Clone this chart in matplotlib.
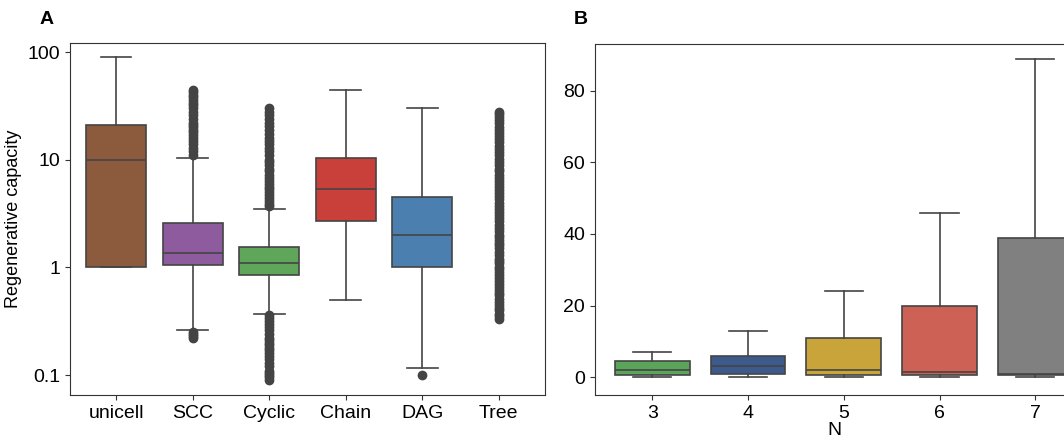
import matplotlib
matplotlib.use("Agg")
from matplotlib import pyplot as plt

plt.rcParams["font.family"] = ["Liberation Sans", "DejaVu Sans"]

# Panel A data
cats_a = ["unicell", "SCC", "Cyclic", "Chain", "DAG", "Tree"]
colors_a = ["#8c5a3c", "#8e5c9e", "#5fa55a", "#c9403a", "#4a7fb0", "#808080"]
whislo_a = [1.0, 0.26, 0.37, 0.5, 0.115, None]
q1_a = [1.0, 1.05, 0.85, 2.7, 1.0, None]
med_a = [10.0, 1.35, 1.1, 5.3, 2.0, None]
q3_a = [21.0, 2.6, 1.55, 10.5, 4.5, None]
whishi_a = [90.0, 10.5, 3.5, 45.0, 30.0, None]
fliers_a = [
    [],
    [0.22, 0.23, 0.24, 0.25, 11, 12, 13, 14, 15, 16, 17, 18, 19, 20, 21, 22, 24, 26, 28, 30, 32, 34, 36,
     38, 40, 43, 45],
    [0.09, 0.095, 0.1, 0.105, 0.11, 0.12, 0.13, 0.14, 0.15, 0.16, 0.17, 0.18, 0.19, 0.2, 0.21, 0.22, 0.24,
     0.26, 0.28, 0.3, 0.32, 0.34, 0.36,
     3.7, 3.9, 4.1, 4.4, 4.7, 5, 5.3, 5.6, 6, 6.4, 6.8, 7.3, 7.8, 8.3, 8.9, 9.5, 10, 11, 12, 13, 14, 15,
     16, 17.5, 19, 20.5, 22, 24, 26, 28, 30],
    [],
    [0.1],
    [0.33, 0.35, 0.37, 0.4, 0.42, 0.45, 0.48, 0.51, 0.55, 0.58, 0.62, 0.66, 0.7, 0.75, 0.8, 0.85, 0.9,
     0.96, 1.0, 1.1, 1.15, 1.2, 1.3, 1.4, 1.5, 1.6, 1.7, 1.8, 1.9, 2.0, 2.2, 2.3, 2.5, 2.7, 2.9, 3.1,
     3.3, 3.5, 3.7, 4.0, 4.3, 4.6, 4.9, 5.2, 5.6, 6.0, 6.4, 6.8, 7.3, 7.8, 8.3, 8.9, 9.5, 10.2, 11,
     11.8, 12.6, 13.5, 14.5, 15.5, 16.6, 17.8, 19, 20.4, 21.8, 23.3, 25, 26.5, 28],
]

# Panel B data
cats_b = ["3", "4", "5", "6", "7"]
colors_b = ["#5aa55a", "#3d5a8c", "#c9a43a", "#cd6155", "#808080"]
whislo_b = [0, 0, 0, 0, 0]
q1_b = [0.5, 1.0, 0.5, 0.5, 0.5]
med_b = [2.0, 3.0, 2.0, 1.5, 1.0]
q3_b = [4.5, 6.0, 11.0, 20.0, 39.0]
whishi_b = [7.0, 13.0, 24.0, 46.0, 89.0]

line = "#444444"
fig = plt.figure(figsize=(10.64, 4.42), dpi=100)
ax_a = fig.add_axes([0.066, 0.106, 0.446, 0.796])
ax_b = fig.add_axes([0.559, 0.106, 0.45, 0.794])


def draw(ax, stats, colors, positions):
    art = ax.bxp(stats, positions=positions, widths=0.78, patch_artist=True,
                 showfliers=True, capwidths=0.4,
                 boxprops=dict(edgecolor=line, linewidth=1.2),
                 medianprops=dict(color=line, linewidth=1.2),
                 whiskerprops=dict(color=line, linewidth=1.2),
                 capprops=dict(color=line, linewidth=1.2),
                 flierprops=dict(marker="o", markerfacecolor=line, markeredgecolor=line, markersize=6))
    for patch, c in zip(art["boxes"], colors):
        patch.set_facecolor(c)


stats_a, pos_a, col_a = [], [], []
for i in range(5):
    stats_a.append(dict(whislo=whislo_a[i], q1=q1_a[i], med=med_a[i], q3=q3_a[i],
                        whishi=whishi_a[i], fliers=fliers_a[i]))
    pos_a.append(i + 1)
    col_a.append(colors_a[i])
draw(ax_a, stats_a, col_a, pos_a)
ax_a.plot([6] * len(fliers_a[5]), fliers_a[5], "o", color=line, markersize=6)
ax_a.set_yscale("log")
ax_a.set_ylim(0.065, 121)
ax_a.set_xlim(0.4, 6.6)
ax_a.set_yticks([0.1, 1, 10, 100])
ax_a.set_yticklabels(["0.1", "1", "10", "100"])
ax_a.minorticks_off()
ax_a.set_xticks(range(1, 7))
ax_a.set_xticklabels(cats_a)
ax_a.set_ylabel("Regenerative capacity", fontsize=13)

stats_b = [dict(whislo=whislo_b[i], q1=q1_b[i], med=med_b[i], q3=q3_b[i],
                whishi=whishi_b[i], fliers=[]) for i in range(5)]
draw(ax_b, stats_b, colors_b, list(range(1, 6)))
ax_b.set_ylim(-5, 93)
ax_b.set_xlim(0.4, 5.4)
ax_b.set_yticks([0, 20, 40, 60, 80])
ax_b.set_xticks(range(1, 6))
ax_b.set_xticklabels(cats_b)
ax_b.set_xlabel("N", fontsize=14, labelpad=0)

for ax in (ax_a, ax_b):
    ax.tick_params(labelsize=14, color="#333333")
    for s in ax.spines.values():
        s.set_color("#333333")

fig.text(0.037, 0.945, "A", fontsize=14, fontweight="bold")
fig.text(0.539, 0.945, "B", fontsize=14, fontweight="bold")
fig.savefig("out.png", dpi=100)
